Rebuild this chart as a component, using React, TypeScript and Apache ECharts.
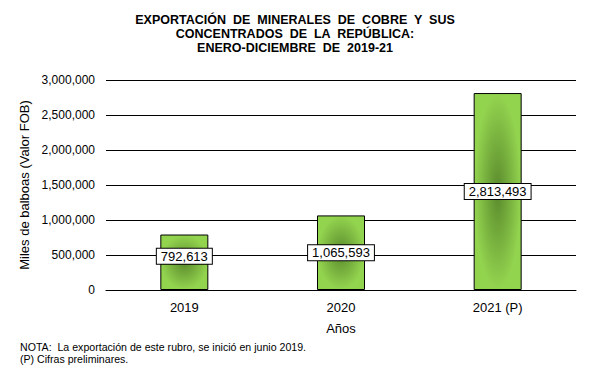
import React, { useEffect, useRef } from "react";
import * as echarts from "echarts";

const titleLines = [
  "EXPORTACIÓN  DE  MINERALES  DE  COBRE  Y  SUS",
  "CONCENTRADOS  DE  LA  REPÚBLICA:",
  "ENERO-DICIEMBRE  DE  2019-21",
];
const categories = ["2019", "2020", "2021 (P)"];
const values = [792613, 1065593, 2813493];
const labelOffsets = [-6, 0, 0];
const yAxisName = "Miles de balboas (Valor FOB)";
const xAxisName = "Años";
const notes = [
  "NOTA:  La exportación de este rubro, se inició en junio 2019.",
  "(P) Cifras preliminares.",
];

const fmt = (v: number) => v.toLocaleString("en-US");
const FONT = "'Liberation Sans', Arial, sans-serif";

export default function App() {
  const ref = useRef<HTMLDivElement>(null);
  useEffect(() => {
    document.body.style.margin = "0";
    const chart = echarts.init(ref.current!, null, { renderer: "svg" });
    chart.setOption({
      animation: false,
      backgroundColor: "#ffffff",
      textStyle: { fontFamily: FONT },
      title: {
        text: titleLines.join("\n"),
        left: "center",
        top: 8,
        textStyle: {
          fontFamily: FONT,
          fontSize: 12.5,
          fontWeight: "bold",
          color: "#000",
          lineHeight: 14,
        },
      },
      grid: { left: 106, right: 14, top: 80, bottom: 78, containLabel: false },
      xAxis: {
        type: "category",
        data: categories,
        name: xAxisName,
        nameLocation: "middle",
        nameGap: 32,
        nameTextStyle: { fontFamily: FONT, fontSize: 13, color: "#000" },
        axisLine: { show: true, lineStyle: { color: "#000", width: 1 } },
        axisTick: { show: false },
        axisLabel: { fontFamily: FONT, fontSize: 13, color: "#000", margin: 11 },
      },
      yAxis: {
        type: "value",
        min: 0,
        max: 3000000,
        interval: 500000,
        name: yAxisName,
        nameLocation: "middle",
        nameGap: 73,
        nameTextStyle: { fontFamily: FONT, fontSize: 13, color: "#000" },
        axisLine: { show: false },
        axisTick: { show: false },
        splitLine: { show: true, lineStyle: { color: "#000", width: 1 } },
        axisLabel: {
          fontFamily: FONT,
          fontSize: 12,
          color: "#000",
          margin: 11,
          formatter: (v: number) => fmt(v),
        },
      },
      series: [
        {
          type: "bar",
          barWidth: 48,
          data: values.map((v, i) => ({
            value: v,
            label: { offset: [0, labelOffsets[i]] },
          })),
          itemStyle: {
            color: new echarts.graphic.RadialGradient(0.5, 0.5, 0.5, [
              { offset: 0, color: "#5a8a2c" },
              { offset: 1, color: "#93d44f" },
            ]),
            borderColor: "#000",
            borderWidth: 1,
          },
          label: {
            show: true,
            position: "inside",
            formatter: (p: any) => fmt(p.value),
            fontFamily: FONT,
            fontSize: 13,
            color: "#000",
            backgroundColor: "#fff",
            borderColor: "#000",
            borderWidth: 1,
            padding: [1, 4, 1, 4],
          },
        },
      ],
      graphic: notes.map((t, i) => ({
        type: "text",
        left: 20,
        top: 341 + i * 12,
        style: { text: t, font: `10.6px ${FONT}`, fill: "#000" },
      })),
    });
    return () => chart.dispose();
  }, []);
  return <div ref={ref} style={{ width: 590, height: 368 }} />;
}
